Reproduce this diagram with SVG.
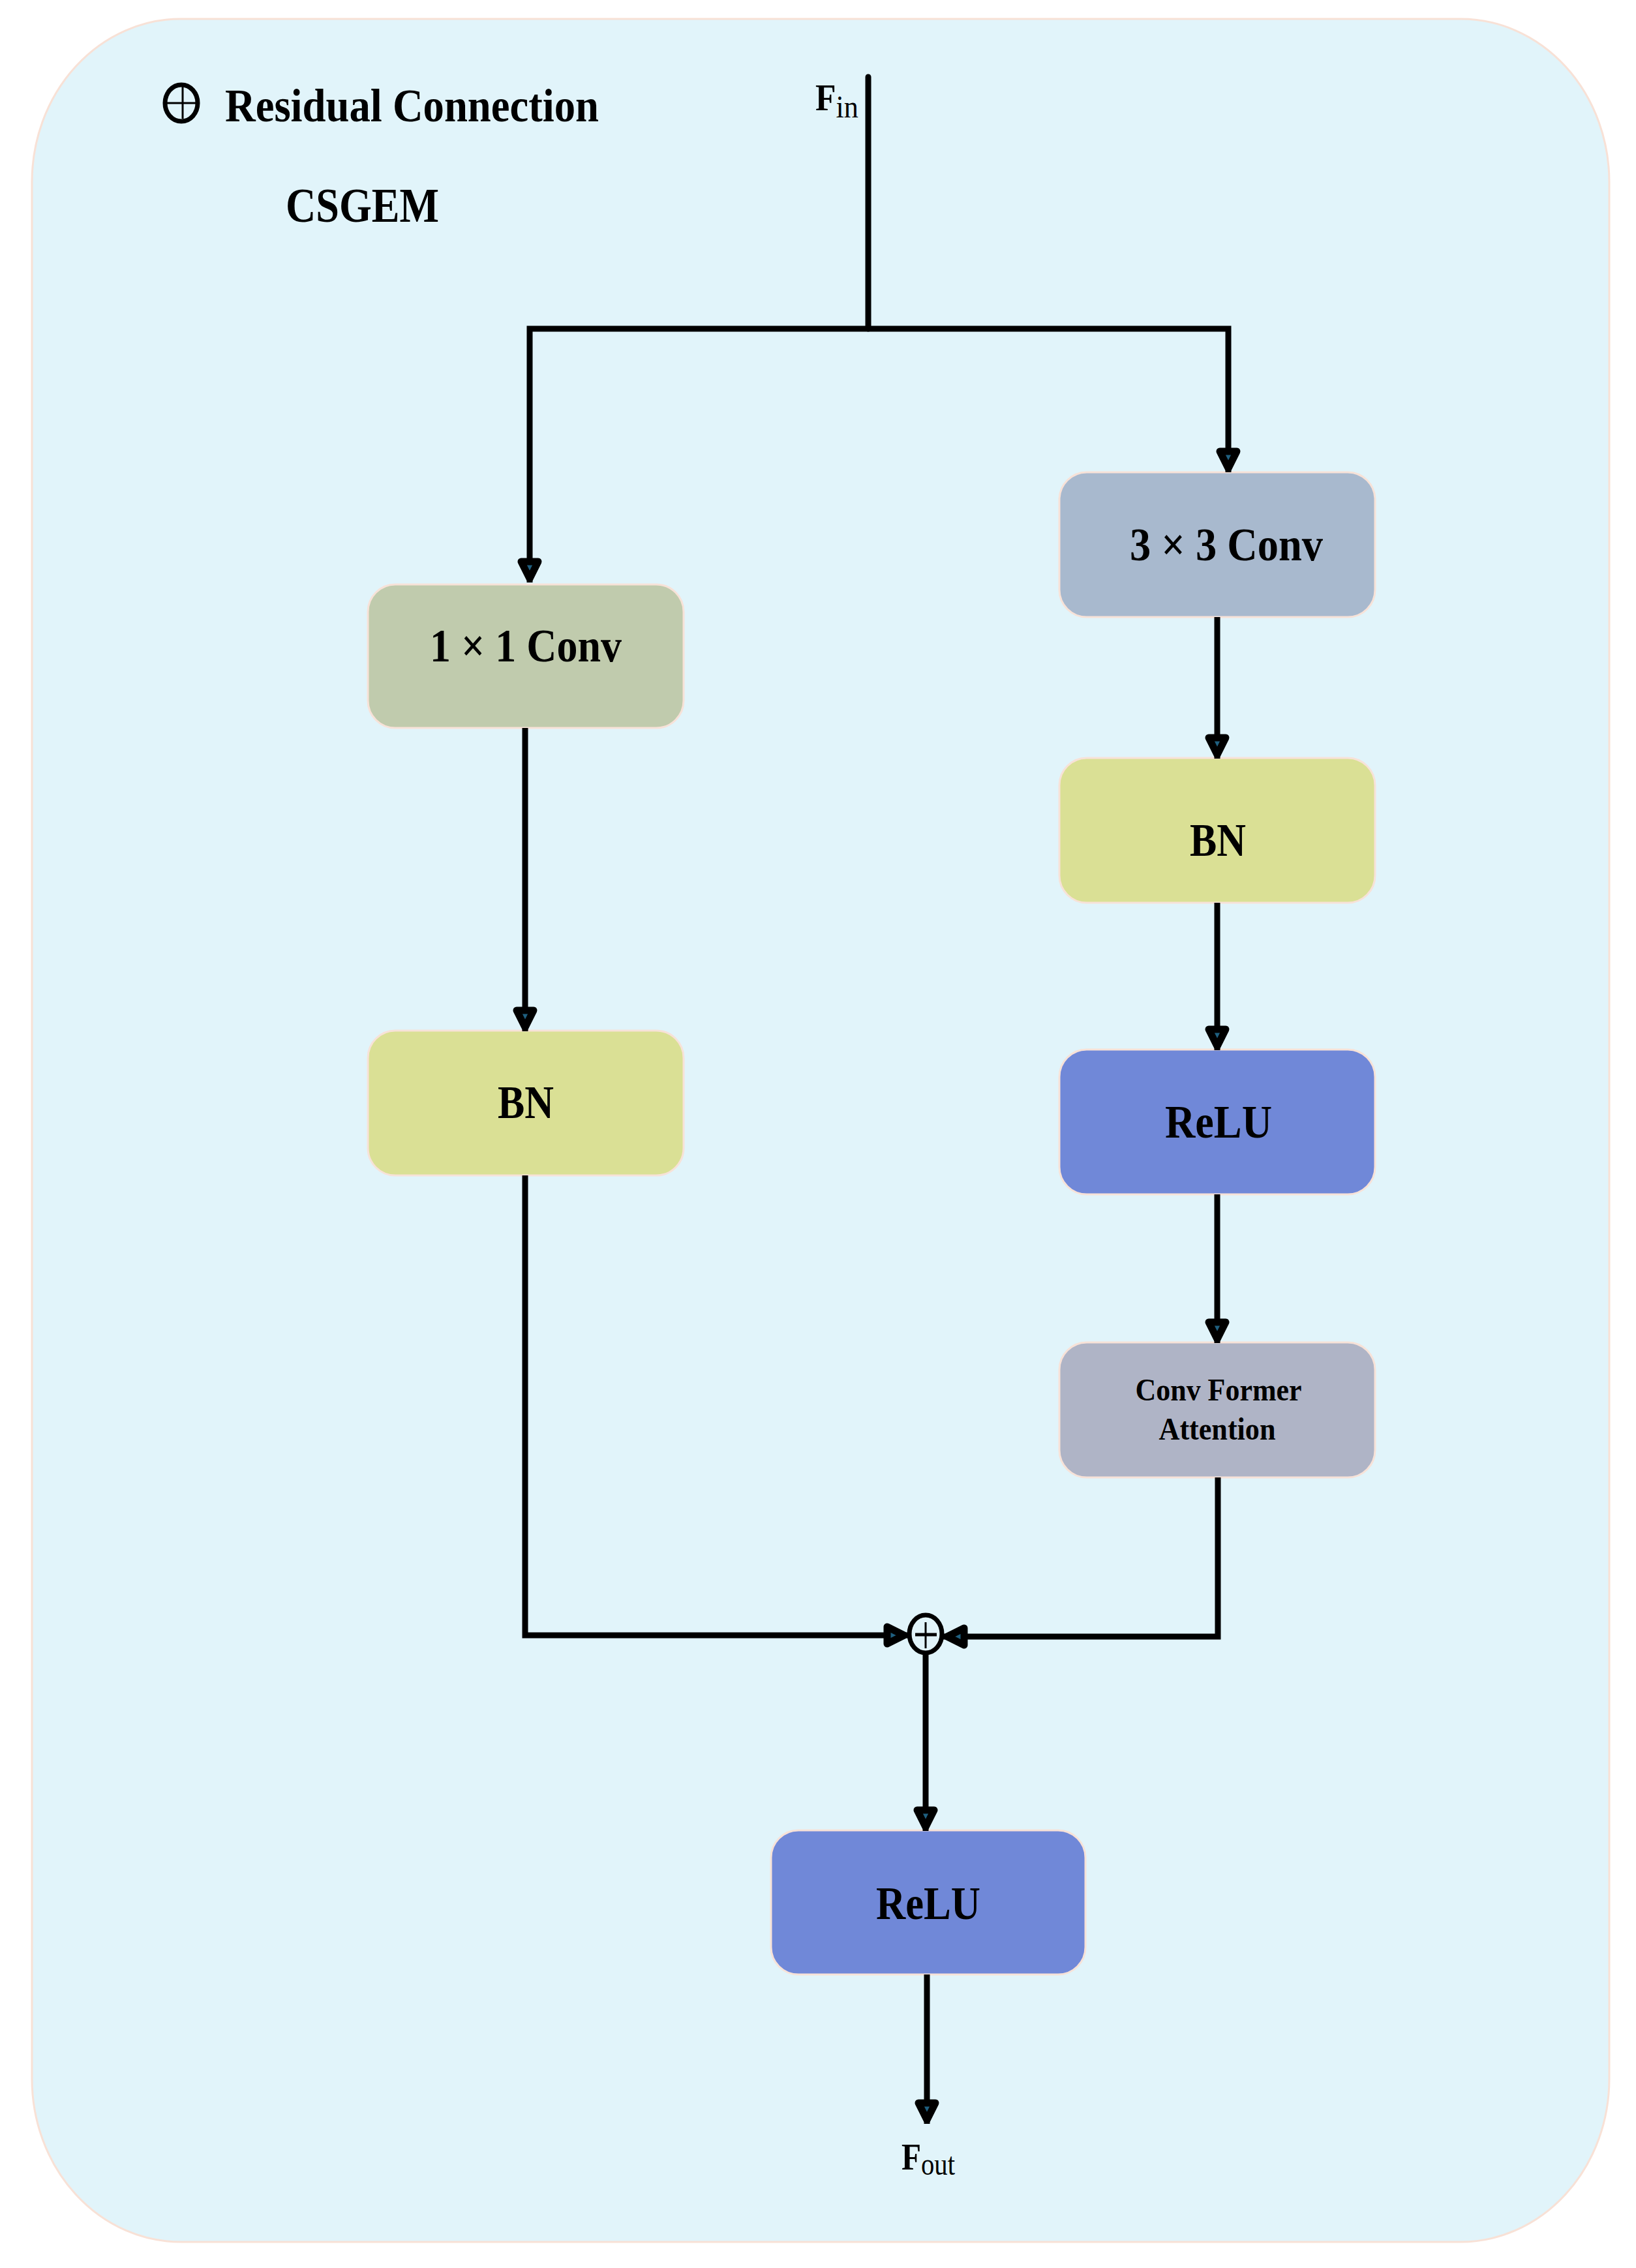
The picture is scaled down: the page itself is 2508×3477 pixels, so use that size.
<svg xmlns="http://www.w3.org/2000/svg" width="2508" height="3477" viewBox="0 0 2508 3477">
<defs>
<style>
.box{stroke:#F7E2D8;stroke-width:3}
.lbl{font-family:"Liberation Serif","Times New Roman",serif;font-weight:bold;font-size:72px;fill:#000;text-anchor:middle}
.small{font-size:48px}
.conn{fill:none;stroke:#000;stroke-width:9;stroke-linejoin:miter}
.arr{marker-end:url(#ah)}
.sub{font-family:"Liberation Serif","Times New Roman",serif;fill:#000}
</style>
<marker id="ah" markerUnits="userSpaceOnUse" viewBox="-45 -25 55 50" markerWidth="55" markerHeight="50" refX="0" refY="0" orient="auto">
<path d="M-32,-13 L-32,13 L-6,0 Z" fill="#1F6080" stroke="#000" stroke-width="11" stroke-linejoin="round"/>
</marker>
</defs>
<rect width="2508" height="3477" fill="#FFFFFF"/>
<rect id="container" x="49" y="29" width="2418" height="3408" rx="228" ry="250" fill="#E1F4FA" stroke="#F8E1D6" stroke-width="3"/>

<g id="legend">
<ellipse cx="278" cy="158" rx="25" ry="28" fill="none" stroke="#000" stroke-width="7"/>
<line x1="256" y1="158" x2="300" y2="158" stroke="#000" stroke-width="3"/>
<line x1="280" y1="133" x2="280" y2="182" stroke="#000" stroke-width="3"/>
<text class="lbl" x="345" y="186" style="text-anchor:start" textLength="573" lengthAdjust="spacingAndGlyphs">Residual Connection</text>
</g>
<g id="title">
<text class="lbl" x="438" y="340" style="text-anchor:start;font-size:74px" textLength="235" lengthAdjust="spacingAndGlyphs">CSGEM</text>
</g>

<g id="fin">
<text class="sub" x="1250" y="169" textLength="66" lengthAdjust="spacingAndGlyphs"><tspan font-weight="bold" font-size="56">F</tspan><tspan font-size="48" dy="11">in</tspan></text>
</g>

<g id="conv1x1">
<rect class="box" x="564" y="896" width="484" height="220" rx="42" fill="#C0CBAD"/>
<text class="lbl" x="806" y="1014" textLength="294" lengthAdjust="spacingAndGlyphs">1 × 1 Conv</text>
</g>
<g id="bn_left">
<rect class="box" x="564" y="1580" width="484" height="222" rx="42" fill="#DAE095"/>
<text class="lbl" x="806" y="1714" textLength="86" lengthAdjust="spacingAndGlyphs">BN</text>
</g>
<g id="conv3x3">
<rect class="box" x="1624" y="724" width="484" height="222" rx="42" fill="#A8B9CE"/>
<text class="lbl" x="1880" y="859" textLength="296" lengthAdjust="spacingAndGlyphs">3 × 3 Conv</text>
</g>
<g id="bn_right">
<rect class="box" x="1624" y="1162" width="484" height="222" rx="42" fill="#DAE095"/>
<text class="lbl" x="1867" y="1312" textLength="86" lengthAdjust="spacingAndGlyphs">BN</text>
</g>
<g id="relu_right">
<rect class="box" x="1624" y="1609" width="484" height="222" rx="42" fill="#7088D8"/>
<text class="lbl" x="1868" y="1744" textLength="164" lengthAdjust="spacingAndGlyphs">ReLU</text>
</g>
<g id="convformer">
<rect class="box" x="1624" y="2058" width="484" height="207" rx="42" fill="#AFB4C6"/>
<text class="lbl small" x="1868" y="2147" textLength="255" lengthAdjust="spacingAndGlyphs">Conv Former</text>
<text class="lbl small" x="1866" y="2207" textLength="179" lengthAdjust="spacingAndGlyphs">Attention</text>
</g>
<g id="add">
<ellipse cx="1419" cy="2505" rx="25" ry="29" fill="none" stroke="#000" stroke-width="7"/>
<line x1="1403" y1="2506" x2="1436" y2="2506" stroke="#000" stroke-width="5"/>
<line x1="1419" y1="2487" x2="1419" y2="2527" stroke="#000" stroke-width="3"/>
</g>
<g id="relu_out">
<rect class="box" x="1182" y="2806" width="482" height="221" rx="42" fill="#7088D8"/>
<text class="lbl" x="1423" y="2942" textLength="160" lengthAdjust="spacingAndGlyphs">ReLU</text>
</g>
<g id="fout">
<text class="sub" x="1382" y="3326" textLength="82" lengthAdjust="spacingAndGlyphs"><tspan font-weight="bold" font-size="58">F</tspan><tspan font-size="48" dy="8">out</tspan></text>
</g>

<g id="connectors">
<path class="conn" d="M1331,118 L1331,504" stroke-linecap="round"/>
<path class="conn arr" d="M1331,504 L812,504 L812,893"/>
<path class="conn arr" d="M1331,504 L1883,504 L1883,724"/>
<path class="conn arr" d="M805,1116 L805,1581"/>
<path class="conn arr" d="M1866,946 L1866,1163"/>
<path class="conn arr" d="M1866,1384 L1866,1610"/>
<path class="conn arr" d="M1866,1831 L1866,2059"/>
<path class="conn arr" d="M805,1802 L805,2507 L1392,2507"/>
<path class="conn arr" d="M1867,2265 L1867,2509 L1446,2509"/>
<path class="conn arr" d="M1419,2534 L1419,2807"/>
<path class="conn arr" d="M1421,3027 L1421,3256"/>
</g>
</svg>
